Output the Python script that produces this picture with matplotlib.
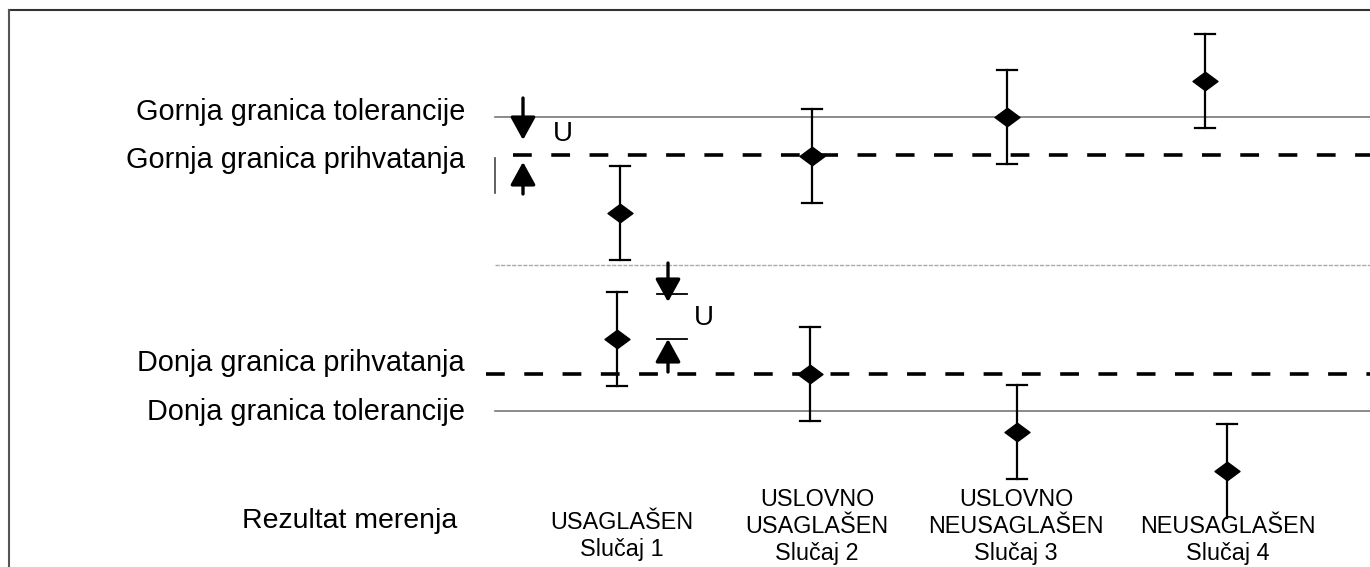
import numpy as np
import matplotlib.pyplot as plt
from matplotlib.path import Path

plt.rcParams['font.family'] = ['Liberation Sans', 'DejaVu Sans']

# limits (pixel rows of the sketch, y grows downward)
limit_names = ['Gornja granica tolerancije', 'Gornja granica prihvatanja',
               'Donja granica prihvatanja', 'Donja granica tolerancije']
limit_y = [117, 155, 374, 411]
limit_label_y = [112, 160, 363, 412]
middle_y = 265

# measured results: upper group and lower group
case_x_up = [620, 812, 1007, 1205]
case_y_up = [213, 156, 117, 81]
case_x_low = [617, 810, 1017, 1227]
case_y_low = [339, 374, 432, 471]
err_u = 47
# last lower bar has its bottom cap hidden in the label
low_cap_low = [True, True, True, False]

case_labels = ['USAGLAŠEN\nSlučaj 1', 'USLOVNO\nUSAGLAŠEN\nSlučaj 2',
               'USLOVNO\nNEUSAGLAŠEN\nSlučaj 3', 'NEUSAGLAŠEN\nSlučaj 4']
case_label_x = [622, 817, 1016, 1228]
case_label_bottom = [561, 565, 565, 565]

fig = plt.figure(figsize=(13.7, 5.67), dpi=100)
ax = fig.add_axes([0, 0, 1, 1])
ax.set_xlim(0, 1370)
ax.set_ylim(567, 0)
ax.axis('off')

# frame (top and left)
ax.plot([9, 1370], [10, 10], color='#333333', lw=1.5)
ax.plot([9, 9], [10, 567], color='#555555', lw=1.5)

# tolerance lines
for y in [limit_y[0], limit_y[3]]:
    ax.plot([495, 1370], [y, y], color='#777777', lw=1.2)
# acceptance lines
ax.plot([513, 1370], [limit_y[1], limit_y[1]], color='black', lw=2.6,
        linestyle=(0, (5.2, 5.4)))
ax.plot([486, 1370], [limit_y[2], limit_y[2]], color='black', lw=2.6,
        linestyle=(0, (5.2, 5.4)))
# middle line
ax.plot([495, 1370], [middle_y, middle_y], color='#aaaaaa', lw=1.0,
        linestyle=(0, (3, 1)))

for name, y in zip(limit_names, limit_label_y):
    ax.text(465, y, name, ha='right', va='center', fontsize=20.8)
ax.text(350, 521, 'Rezultat merenja', ha='center', va='center', fontsize=20.5)

# flattened diamond marker
diamond = Path([(-1, 0), (0, 0.74), (1, 0), (0, -0.74), (-1, 0)],
               [Path.MOVETO, Path.LINETO, Path.LINETO, Path.LINETO,
                Path.CLOSEPOLY])

# error bars
cap = 10
groups = [(case_x_up, case_y_up, [True] * 4), (case_x_low, case_y_low, low_cap_low)]
for xs, ys, caps in groups:
    for x, y, c in zip(xs, ys, caps):
        ax.plot([x, x], [y - err_u, y + err_u], color='black', lw=1.6)
        ax.plot([x - cap, x + cap], [y - err_u, y - err_u], color='black', lw=1.6)
        if c:
            ax.plot([x - cap, x + cap], [y + err_u, y + err_u], color='black', lw=1.6)
    ax.plot(xs, ys, linestyle='none', marker=diamond, ms=18, color='black')

for x, yb, lab in zip(case_label_x, case_label_bottom, case_labels):
    ax.text(x, yb, lab, ha='center', va='bottom', fontsize=16.8,
            linespacing=1.22)

# U markers near upper limits
ap = dict(arrowstyle='-|>,head_length=1.0,head_width=0.55', color='black',
          lw=2.4, shrinkA=0, shrinkB=0, mutation_scale=14)
ax.annotate('', xy=(523, 140), xytext=(523, 98), arrowprops=ap)
ax.annotate('', xy=(523, 162), xytext=(523, 194), arrowprops=ap)
ax.plot([495, 495], [158, 193], color='#444444', lw=1.2)
ax.text(563, 134, 'U', ha='center', va='center', fontsize=20)

# U markers near lower limits
ax.annotate('', xy=(668, 302), xytext=(668, 263), arrowprops=ap)
ax.annotate('', xy=(668, 339), xytext=(668, 372), arrowprops=ap)
ax.plot([657, 687], [294, 294], color='black', lw=1.3)
ax.plot([657, 687], [339, 339], color='black', lw=1.3)
ax.text(704, 318, 'U', ha='center', va='center', fontsize=20)

fig.savefig('out.png', dpi=100)
